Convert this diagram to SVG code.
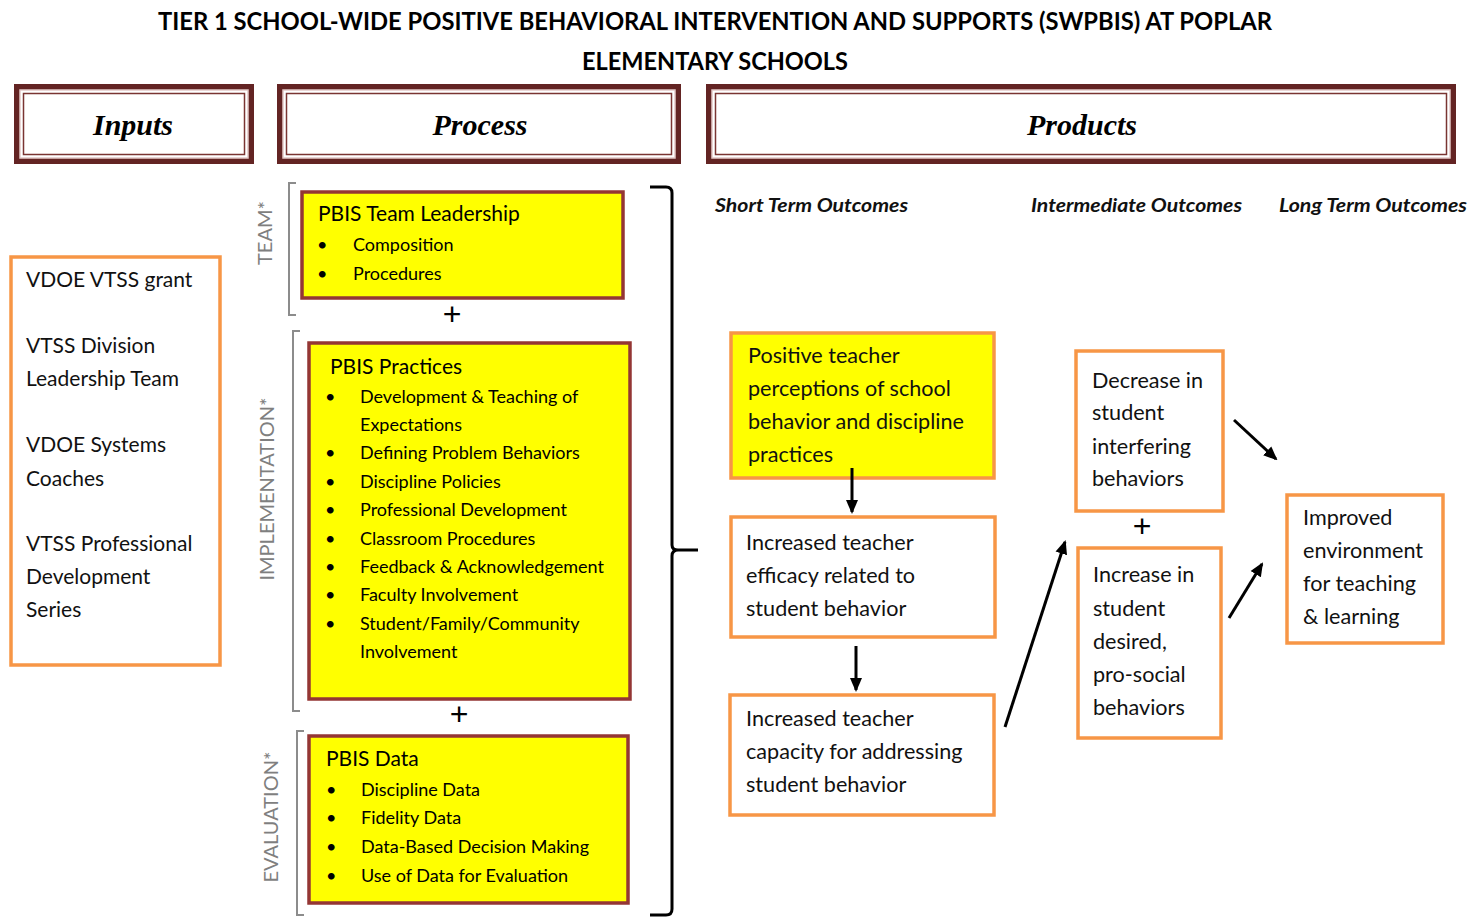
<svg xmlns="http://www.w3.org/2000/svg" width="1472" height="917" viewBox="0 0 1472 917">
  <style>
    .title { font-family: Lato, "Liberation Sans", sans-serif; font-weight: 700; font-size: 24px; fill: #000; }
    .head { font-family: "Liberation Serif", serif; font-style: italic; font-weight: 700; font-size: 30px; fill: #000; }
    .col { font-family: Lato, "Liberation Sans", sans-serif; font-style: italic; font-weight: 700; font-size: 18px; fill: #111; }
    .body { font-family: Lato, "Liberation Sans", sans-serif; font-size: 21px; fill: #111; }
    .obody { font-family: Lato, "Liberation Sans", sans-serif; font-size: 21.6px; fill: #111; }
    .ptitle { font-family: Lato, "Liberation Sans", sans-serif; font-size: 21px; fill: #000; }
    .item { font-family: Lato, "Liberation Sans", sans-serif; font-size: 18px; fill: #000; }
    .side { font-family: Lato, "Liberation Sans", sans-serif; font-size: 20px; fill: #7f7f7f; }
    .frame-out { fill: #632423; }
    .frame-in { fill: #fff; stroke: #e3c9c8; stroke-width: 1.5; }
    .frame-line { fill: none; stroke: #7a3432; stroke-width: 1.5; }
    .orange { fill: #fff; stroke: #f79646; stroke-width: 3.5; }
    .orange-y { fill: #ffff00; stroke: #f79646; stroke-width: 3.5; }
    .practice { fill: #ffff00; stroke: #943634; stroke-width: 3.5; }
    .gbracket { fill: none; stroke: #8c8c8c; stroke-width: 2; }
    .plus { font-family: "Liberation Sans", sans-serif; font-size: 32px; fill: #000; }
    .arrow { fill: none; stroke: #000; stroke-width: 3; marker-end: url(#head); }
    .brace { fill: none; stroke: #000; stroke-width: 3; stroke-linejoin: round; }
  </style>
  <defs>
    <marker id="head" markerUnits="userSpaceOnUse" markerWidth="14" markerHeight="14" viewBox="0 0 14 14" refX="12" refY="7" orient="auto">
      <path d="M0,1 L14,7 L0,13 z" fill="#000"/>
    </marker>
  </defs>

  <rect width="1472" height="917" fill="#fff"/>

  <!-- title -->
  <g id="title">
    <text class="title" x="715" y="30" text-anchor="middle" textLength="1114" lengthAdjust="spacingAndGlyphs">TIER 1 SCHOOL-WIDE POSITIVE BEHAVIORAL INTERVENTION AND SUPPORTS (SWPBIS) AT POPLAR</text>
    <text class="title" x="715" y="70" text-anchor="middle" textLength="266" lengthAdjust="spacingAndGlyphs">ELEMENTARY SCHOOLS</text>
  </g>

  <!-- column headers -->
  <g id="hdr-inputs">
    <rect class="frame-out" x="14" y="84" width="240" height="80"/>
    <rect class="frame-in" x="20" y="90" width="228" height="68"/>
    <rect class="frame-line" x="23.5" y="93.5" width="221" height="61"/>
    <text class="head" x="133" y="135" text-anchor="middle">Inputs</text>
  </g>
  <g id="hdr-process">
    <rect class="frame-out" x="277" y="84" width="404" height="80"/>
    <rect class="frame-in" x="283" y="90" width="392" height="68"/>
    <rect class="frame-line" x="286.5" y="93.5" width="385" height="61"/>
    <text class="head" x="480" y="135" text-anchor="middle">Process</text>
  </g>
  <g id="hdr-products">
    <rect class="frame-out" x="706" y="84" width="750" height="80"/>
    <rect class="frame-in" x="712" y="90" width="738" height="68"/>
    <rect class="frame-line" x="715.5" y="93.5" width="731" height="61"/>
    <text class="head" x="1082" y="135" text-anchor="middle">Products</text>
  </g>

  <!-- inputs -->
  <g id="inputs">
    <rect class="orange" x="11" y="257" width="209" height="408"/>
    <text class="body" x="26" y="287">VDOE VTSS grant</text>
    <text class="body" x="26" y="353">VTSS Division</text>
    <text class="body" x="26" y="386">Leadership Team</text>
    <text class="body" x="26" y="452">VDOE Systems</text>
    <text class="body" x="26" y="486">Coaches</text>
    <text class="body" x="26" y="551">VTSS Professional</text>
    <text class="body" x="26" y="584">Development</text>
    <text class="body" x="26" y="617">Series</text>
  </g>

  <!-- process: team -->
  <g id="team">
    <path class="gbracket" d="M296,183 H289 V315 H296"/>
    <text class="side" transform="translate(272,233) rotate(-90)" text-anchor="middle">TEAM*</text>
    <rect class="practice" x="302" y="192" width="321" height="106"/>
    <text class="ptitle" x="318" y="221">PBIS Team Leadership</text>
    <text class="item" x="317" y="251">•</text><text class="item" x="353" y="251">Composition</text>
    <text class="item" x="317" y="280">•</text><text class="item" x="353" y="280">Procedures</text>
  </g>
  <text class="plus" x="452" y="325" text-anchor="middle">+</text>

  <!-- process: implementation -->
  <g id="implementation">
    <path class="gbracket" d="M300,331 H293 V711 H300"/>
    <text class="side" transform="translate(274,489) rotate(-90)" text-anchor="middle">IMPLEMENTATION*</text>
    <rect class="practice" x="309" y="343" width="321" height="356"/>
    <text class="ptitle" x="330" y="374">PBIS Practices</text>
    <text class="item" x="325" y="403">•</text><text class="item" x="360" y="403">Development &amp; Teaching of</text>
    <text class="item" x="360" y="431">Expectations</text>
    <text class="item" x="325" y="459">•</text><text class="item" x="360" y="459">Defining Problem Behaviors</text>
    <text class="item" x="325" y="488">•</text><text class="item" x="360" y="488">Discipline Policies</text>
    <text class="item" x="325" y="516">•</text><text class="item" x="360" y="516">Professional Development</text>
    <text class="item" x="325" y="545">•</text><text class="item" x="360" y="545">Classroom Procedures</text>
    <text class="item" x="325" y="573">•</text><text class="item" x="360" y="573">Feedback &amp; Acknowledgement</text>
    <text class="item" x="325" y="601">•</text><text class="item" x="360" y="601">Faculty Involvement</text>
    <text class="item" x="325" y="630">•</text><text class="item" x="360" y="630">Student/Family/Community</text>
    <text class="item" x="360" y="658">Involvement</text>
  </g>
  <text class="plus" x="459" y="725" text-anchor="middle">+</text>

  <!-- process: evaluation -->
  <g id="evaluation">
    <path class="gbracket" d="M304,731 H297 V915 H304"/>
    <text class="side" transform="translate(278,817) rotate(-90)" text-anchor="middle">EVALUATION*</text>
    <rect class="practice" x="309" y="736" width="319" height="167"/>
    <text class="ptitle" x="326" y="766">PBIS Data</text>
    <text class="item" x="326" y="796">•</text><text class="item" x="361" y="796">Discipline Data</text>
    <text class="item" x="326" y="824">•</text><text class="item" x="361" y="824">Fidelity Data</text>
    <text class="item" x="326" y="853">•</text><text class="item" x="361" y="853">Data-Based Decision Making</text>
    <text class="item" x="326" y="882">•</text><text class="item" x="361" y="882">Use of Data for Evaluation</text>
  </g>

  <!-- brace joining process to products -->
  <path id="brace" class="brace" d="M650,187 H666 Q672,187 672,193 V545 Q672,550 678,550 H698 M678,550 Q672,550 672,556 V909 Q672,915 666,915 H650"/>

  <!-- outcome column labels -->
  <g id="outcome-labels">
    <text class="col" x="715" y="212" textLength="193" lengthAdjust="spacingAndGlyphs">Short Term Outcomes</text>
    <text class="col" x="1031" y="212" textLength="211" lengthAdjust="spacingAndGlyphs">Intermediate Outcomes</text>
    <text class="col" x="1279" y="212" textLength="188" lengthAdjust="spacingAndGlyphs">Long Term Outcomes</text>
  </g>

  <!-- short term outcomes -->
  <g id="st-perceptions">
    <rect class="orange-y" x="731" y="333" width="263" height="145"/>
    <text class="obody" x="748" y="363">Positive teacher</text>
    <text class="obody" x="748" y="396">perceptions of school</text>
    <text class="obody" x="748" y="429">behavior and discipline</text>
    <text class="obody" x="748" y="462">practices</text>
  </g>
  <g id="st-efficacy">
    <rect class="orange" x="731" y="517" width="264" height="120"/>
    <text class="obody" x="746" y="550">Increased teacher</text>
    <text class="obody" x="746" y="583">efficacy related to</text>
    <text class="obody" x="746" y="616">student behavior</text>
  </g>
  <g id="st-capacity">
    <rect class="orange" x="730" y="695" width="264" height="120"/>
    <text class="obody" x="746" y="726">Increased teacher</text>
    <text class="obody" x="746" y="759">capacity for addressing</text>
    <text class="obody" x="746" y="792">student behavior</text>
  </g>

  <!-- intermediate outcomes -->
  <g id="int-decrease">
    <rect class="orange" x="1076" y="351" width="147" height="160"/>
    <text class="obody" x="1092" y="388">Decrease in</text>
    <text class="obody" x="1092" y="420">student</text>
    <text class="obody" x="1092" y="454">interfering</text>
    <text class="obody" x="1092" y="486">behaviors</text>
  </g>
  <text class="plus" x="1142" y="537" text-anchor="middle">+</text>
  <g id="int-increase">
    <rect class="orange" x="1078" y="548" width="143" height="190"/>
    <text class="obody" x="1093" y="582">Increase in</text>
    <text class="obody" x="1093" y="616">student</text>
    <text class="obody" x="1093" y="649">desired,</text>
    <text class="obody" x="1093" y="682">pro-social</text>
    <text class="obody" x="1093" y="715">behaviors</text>
  </g>

  <!-- long term outcome -->
  <g id="lt-environment">
    <rect class="orange" x="1287" y="495" width="156" height="148"/>
    <text class="obody" x="1303" y="525">Improved</text>
    <text class="obody" x="1303" y="558">environment</text>
    <text class="obody" x="1303" y="591">for teaching</text>
    <text class="obody" x="1303" y="624">&amp; learning</text>
  </g>

  <!-- connectors -->
  <g id="connectors">
    <line class="arrow" x1="852" y1="468" x2="852" y2="512"/>
    <line class="arrow" x1="856" y1="646" x2="856" y2="690"/>
    <line class="arrow" x1="1005" y1="727" x2="1065" y2="542"/>
    <line class="arrow" x1="1234" y1="420" x2="1276" y2="459"/>
    <line class="arrow" x1="1229" y1="618" x2="1262" y2="564"/>
  </g>
</svg>
